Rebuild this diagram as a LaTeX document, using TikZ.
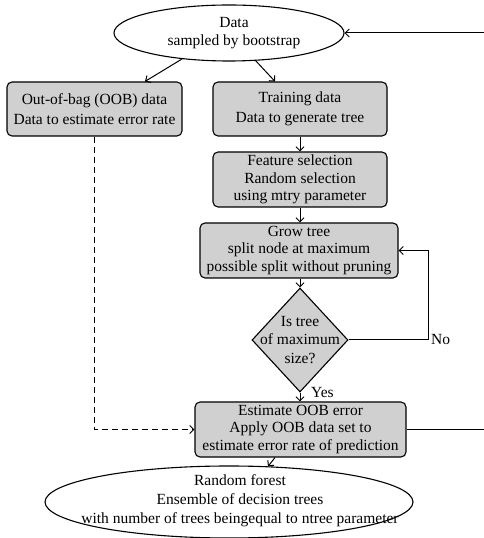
\documentclass[tikz,border=0pt]{standalone}
\usepackage{fontspec}
\setmainfont{Liberation Serif}
\usetikzlibrary{shapes.geometric,arrows.meta,calc}
\definecolor{boxgray}{RGB}{208,208,208}
\begin{document}
\begin{tikzpicture}[x=1pt,y=1pt,
  every node/.style={font=\fontsize{15.5}{17.5}\selectfont},
  proc/.style={draw, line width=1.1pt, fill=boxgray, rounded corners=5pt, inner sep=0pt, align=center},
  oval/.style={draw, line width=1.1pt, ellipse, inner sep=0pt, align=center},
  decide/.style={draw, line width=1.1pt, fill=boxgray, diamond, inner sep=0pt},
  txt/.style={inner sep=0pt, align=center},
  conn/.style={line width=1pt, -{Straight Barb[length=4pt,width=8pt,line width=1pt]}},
  plain/.style={line width=1pt},
  oobdash/.style={dash pattern=on 6pt off 4pt},
  lbl/.style={inner sep=0pt, anchor=west}
]
\useasboundingbox (0,0) rectangle (484,538);
\node[oval, minimum width=230, minimum height=56] (top) at (229,505) {};
\node[txt] (toplbl) at (234,505) {Data\\sampled by bootstrap};
\node[proc, minimum width=175, minimum height=54] (oob) at (94.5,429) {Out-of-bag (OOB) data\\[2pt]Data to estimate error rate};
\node[proc, minimum width=174, minimum height=54] (train) at (300,429) {Training data\\[2pt]Data to generate tree};
\node[proc, minimum width=174, minimum height=55] (feat) at (300,358.5) {Feature selection\\Random selection\\using mtry parameter};
\node[proc, minimum width=198, minimum height=55] (grow) at (299,287.5) {Grow tree\\split node at maximum\\possible split without pruning};
\node[decide, minimum width=96, minimum height=104] (dia) at (300,198) {};
\node[txt] (dialbl) at (300,198) {Is tree\\[1pt]of maximum\\[1pt]size?};
\node[proc, minimum width=211, minimum height=55] (est) at (300.5,108.5) {Estimate OOB error\\Apply OOB data set to\\estimate error rate of prediction};
\node[oval, minimum width=368, minimum height=72] (forest) at (229,36) {};
\node[txt] (forestlbl) at (240,37) {Random forest\\[1.5pt]Ensemble of decision trees\\[1.5pt]with number of trees beingequal to ntree parameter};
\coordinate (r1) at (484,505);
\coordinate (r2) at (484,108.5);
\node[lbl] (no) at (431,198) {No};
\node[lbl] (yes) at (311,145) {Yes};
\draw[conn] ($(top.center)+(-47,-26)$) -- ($(oob.north)+(50.5,0)$);
\draw[conn] ($(top.center)+(26,-27)$) -- ($(train.north)+(-25,0)$);
\draw[conn] (train.south) -- (feat.north);
\draw[conn] (feat.south) -- (grow.north -| feat.south);
\draw[conn] (grow.south -| dia.north) -- (dia.north);
\draw[conn] (dia.east) -- ++(80,0) |- (grow.east);
\draw[conn] (dia.south) -- (est.north -| dia.south);
\draw[conn, oobdash] (oob.south) -- (oob.south |- est.west) -- (est.west);
\draw[conn] ($(est.south)+(-25.5,0)$) -- ($(forest.north)+(39,-1)$);
\draw[plain] (est.east) -- (r2);
\draw[conn] (r1) -- (top.east);
\end{tikzpicture}
\end{document}
